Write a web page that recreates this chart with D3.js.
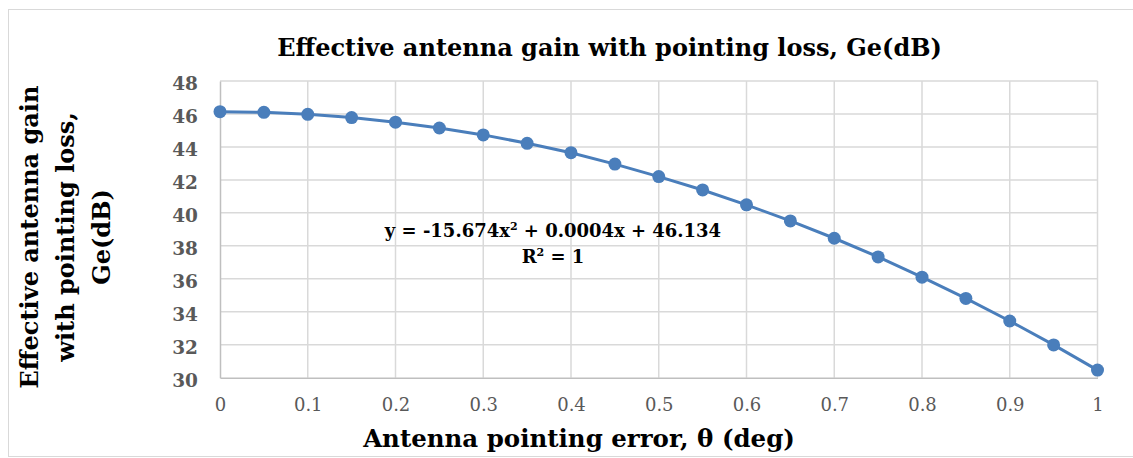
<!DOCTYPE html>
<html lang="en">
<head>
    <meta charset="UTF-8">
    <title>Effective antenna gain with pointing loss</title>
    <script src="https://d3js.org/d3.v7.min.js"></script>
    <style>
        body {
            margin: 0;
            background: #fff;
        }
        svg text {
            font-family: "DejaVu Serif", "Liberation Serif", serif;
        }
    </style>
</head>
<body>
<div id="chart"></div>
<script>
    // pointing error (deg) and effective gain (dB)
    const errorDeg = [0, 0.05, 0.1, 0.15, 0.2, 0.25, 0.3, 0.35, 0.4, 0.45, 0.5,
        0.55, 0.6, 0.65, 0.7, 0.75, 0.8, 0.85, 0.9, 0.95, 1];
    const gainDb = [46.14, 46.10, 45.98, 45.78, 45.50, 45.15, 44.73, 44.22, 43.65, 42.96, 42.20,
        41.39, 40.49, 39.51, 38.46, 37.33, 36.10, 34.81, 33.44, 31.99, 30.46];
    const xTicks = [0, 0.1, 0.2, 0.3, 0.4, 0.5, 0.6, 0.7, 0.8, 0.9, 1];
    const yTicks = [30, 32, 34, 36, 38, 40, 42, 44, 46, 48];

    const data = errorDeg.map((x, i) => ({x: x, y: gainDb[i]}));

    const W = 1133, H = 458;
    const plot = {left: 220, right: 1097.5, top: 81, bottom: 377.7};
    const blue = "#4a7ebb";

    const svg = d3.select("#chart")
        .append("svg")
        .attr("width", W)
        .attr("height", H);

    // shrink or grow a text until it spans the wanted width
    function fit(sel, width) {
        const size = parseFloat(sel.style("font-size"));
        const w = sel.node().getComputedTextLength();
        const s = size * width / w;
        sel.style("font-size", s + "px");
        return s;
    }

    // chart frame
    svg.append("rect")
        .attr("x", 8.5).attr("y", 9.5)
        .attr("width", W + 10).attr("height", 447)
        .attr("fill", "#fff")
        .attr("stroke", "#d9d9d9")
        .attr("stroke-width", 1);

    const x = d3.scaleLinear().domain([0, 1]).range([plot.left, plot.right]);
    const y = d3.scaleLinear().domain([30, 48]).range([plot.bottom, plot.top]);

    // gridlines
    svg.append("g")
        .selectAll("line.h")
        .data(yTicks.slice(1))
        .join("line")
        .attr("x1", plot.left).attr("x2", plot.right)
        .attr("y1", d => y(d)).attr("y2", d => y(d))
        .attr("stroke", "#d9d9d9")
        .attr("stroke-width", 1.5);

    svg.append("g")
        .selectAll("line.v")
        .data(xTicks.slice(1))
        .join("line")
        .attr("x1", d => x(d)).attr("x2", d => x(d))
        .attr("y1", plot.top).attr("y2", plot.bottom)
        .attr("stroke", "#d9d9d9")
        .attr("stroke-width", 1.5);

    // axes
    const yAxis = svg.append("g")
        .attr("transform", `translate(${plot.left},0)`)
        .call(d3.axisLeft(y).tickValues(yTicks).tickSize(0).tickPadding(22).tickFormat(d3.format("d")));
    yAxis.select(".domain").attr("stroke", "#bfbfbf").attr("stroke-width", 1.5);
    yAxis.selectAll("text")
        .attr("fill", "#595959")
        .attr("dy", "0.45em")
        .style("font-size", "18.5px")
        .style("font-weight", "bold");

    const xAxis = svg.append("g")
        .attr("transform", `translate(0,${plot.bottom})`)
        .call(d3.axisBottom(x).tickValues(xTicks).tickSize(0).tickPadding(21).tickFormat(d => String(d)));
    xAxis.select(".domain").attr("stroke", "#bfbfbf").attr("stroke-width", 1.5);
    xAxis.selectAll("text")
        .attr("fill", "#595959")
        .style("font-size", "18px");

    // series
    const line = d3.line()
        .x(d => x(d.x))
        .y(d => y(d.y));

    svg.append("path")
        .datum(data)
        .attr("fill", "none")
        .attr("stroke", blue)
        .attr("stroke-width", 3)
        .attr("d", line);

    svg.append("g")
        .selectAll("circle")
        .data(data)
        .join("circle")
        .attr("cx", d => x(d.x))
        .attr("cy", d => y(d.y))
        .attr("r", 6.5)
        .attr("fill", blue);

    // trendline label
    const eq = svg.append("text")
        .attr("x", 553).attr("y", 237)
        .attr("text-anchor", "middle")
        .style("font-size", "17px")
        .style("font-weight", "bold");
    eq.append("tspan").text("y = -15.674x");
    eq.append("tspan").attr("dy", -7).style("font-size", "11px").text("2");
    eq.append("tspan").attr("dy", 7).text(" + 0.0004x + 46.134");
    fit(eq, 337);

    const r2 = svg.append("text")
        .attr("x", 553).attr("y", 263)
        .attr("text-anchor", "middle")
        .style("font-size", eq.style("font-size"))
        .style("font-weight", "bold");
    r2.append("tspan").text("R");
    r2.append("tspan").attr("dy", -7).style("font-size", "11px").text("2");
    r2.append("tspan").attr("dy", 7).text(" = 1");

    // titles
    const title = svg.append("text")
        .attr("x", 609.5).attr("y", 56)
        .attr("text-anchor", "middle")
        .style("font-size", "24px")
        .style("font-weight", "bold")
        .text("Effective antenna gain with pointing loss, Ge(dB)");
    fit(title, 665);

    const xTitle = svg.append("text")
        .attr("x", 579).attr("y", 447)
        .attr("text-anchor", "middle")
        .style("font-size", "24px")
        .style("font-weight", "bold")
        .text("Antenna pointing error, \u03b8 (deg)");
    fit(xTitle, 432);

    const yLines = ["Effective antenna gain", "with pointing loss,", "Ge(dB)"];
    const yTitle = svg.append("g")
        .attr("transform", "translate(0,237) rotate(-90)");
    const first = yTitle.append("text")
        .attr("x", 0).attr("y", 38)
        .attr("text-anchor", "middle")
        .style("font-size", "24px")
        .style("font-weight", "bold")
        .text(yLines[0]);
    const ySize = fit(first, 303);
    yLines.slice(1).forEach((t, i) => {
        yTitle.append("text")
            .attr("x", 0).attr("y", 38 + 36 * (i + 1))
            .attr("text-anchor", "middle")
            .style("font-size", ySize + "px")
            .style("font-weight", "bold")
            .text(t);
    });
</script>
</body>
</html>
